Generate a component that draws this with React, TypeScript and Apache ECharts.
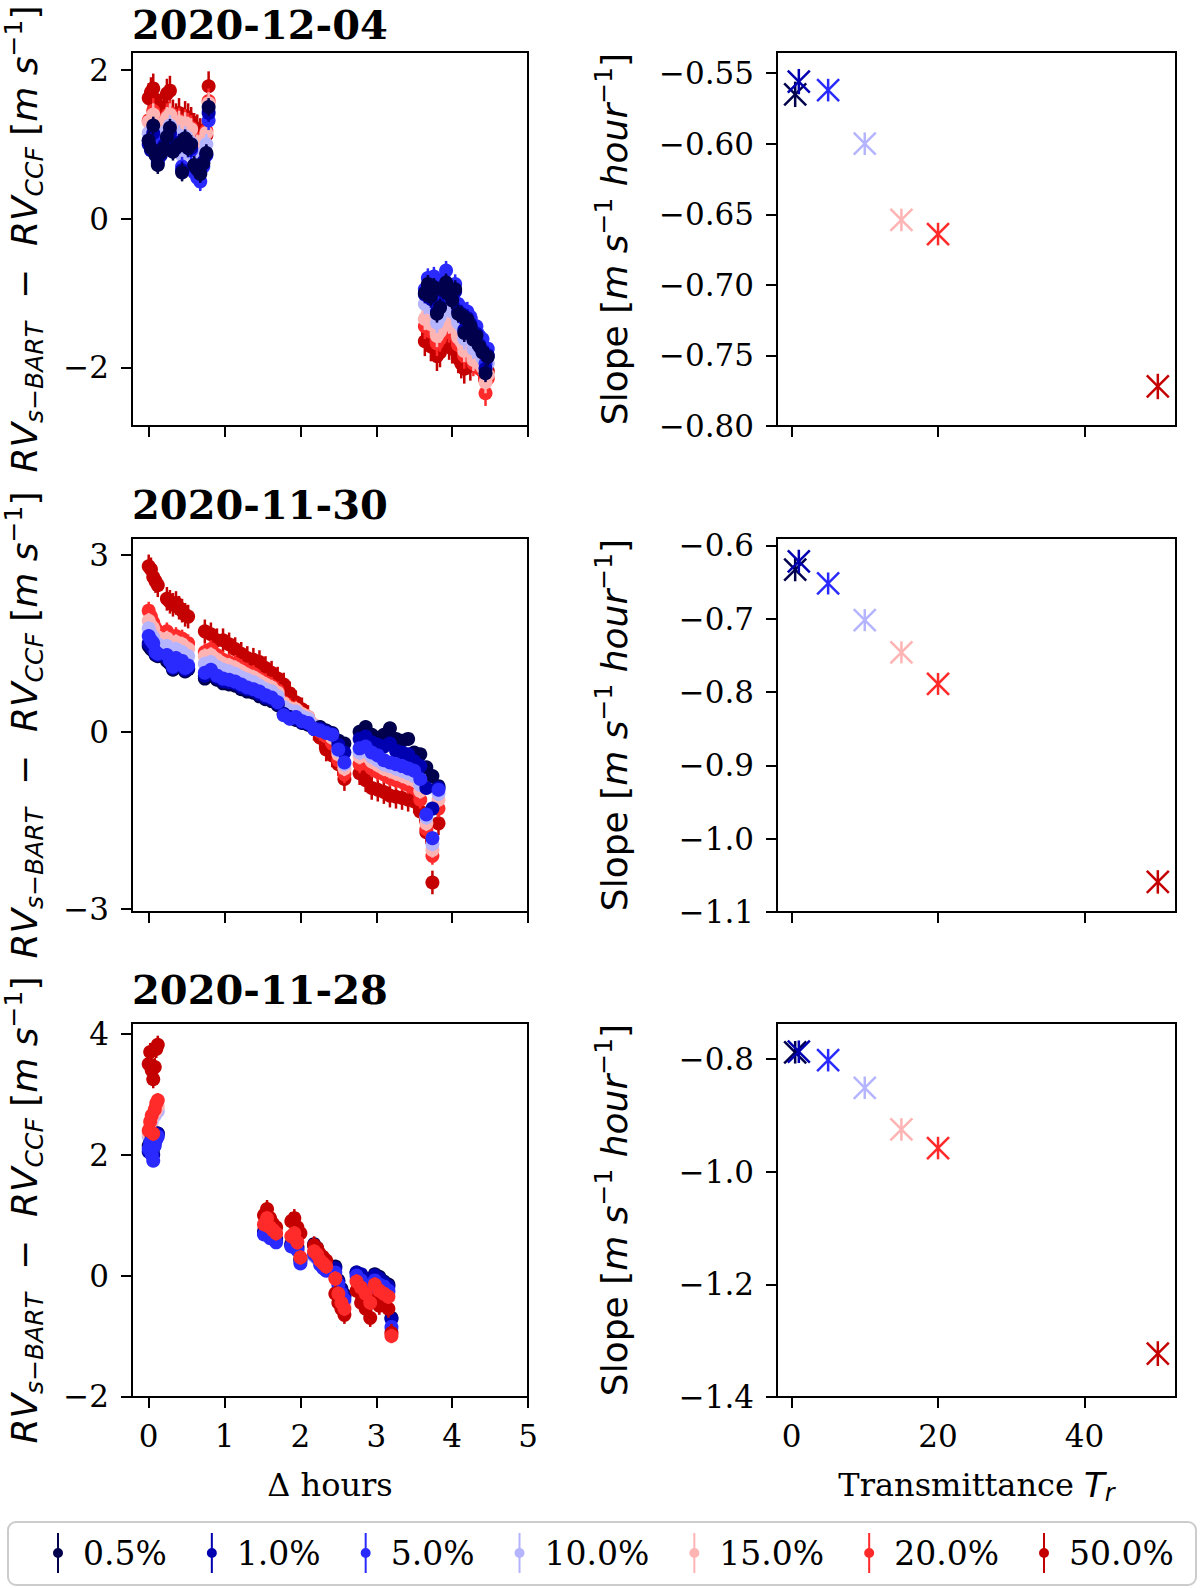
import { useEffect, useRef } from 'react';
import * as echarts from 'echarts';

const SERIF = "'DejaVu Serif', serif";
const SANS = "'DejaVu Sans', sans-serif";

// transmittance levels and their colours (seismic-like)
const LEVELS = ['0.5%', '1.0%', '5.0%', '10.0%', '15.0%', '20.0%', '50.0%'];
const COLORS = ['#00004c', '#0000b0', '#2a2aff', '#b4b4ff', '#ffb4b4', '#ff2a2a', '#c40000'];
const TRANSMITTANCE = [0.5, 1, 5, 10, 15, 20, 50];
const NIGHT_TITLES = ['2020-12-04', '2020-11-30', '2020-11-28'];

// ---- 2020-12-04 ----
const HOURS_DEC04 = [
  0.0, 0.03, 0.06, 0.09, 0.12, 0.16, 0.2, 0.24, 0.28, 0.32, 0.36, 0.4, 0.44, 0.48, 0.52, 0.56, 0.6, 0.64, 0.68, 0.72, 0.76, 0.79,
  3.64, 3.68, 3.72, 3.76, 3.8, 3.84, 3.88, 3.92, 3.96, 4.0, 4.04, 4.08, 4.12, 4.16, 4.2, 4.24, 4.28, 4.32, 4.36, 4.4, 4.44, 4.47,
];
const RV_DEC04 = [
  [1.05, 0.95, 1.25, 0.85, 0.72, 0.88, 0.95, 1.1, 1.22, 0.9, 0.95, 1.0, 0.62, 1.08, 0.95, 1.0, 0.72, 0.66, 0.6, 0.74, 0.88, 1.5,
    -1.0, -0.88, -1.05, -0.92, -1.28, -1.2, -0.96, -0.86, -1.02, -1.1, -0.95, -1.28, -1.3, -1.54, -1.36, -1.45, -1.63, -1.58, -1.72, -1.8, -2.08, -1.86],
  [1.0, 0.92, 1.15, 0.88, 0.75, 0.85, 0.98, 1.05, 1.15, 0.92, 0.98, 1.02, 0.65, 1.02, 0.98, 0.95, 0.7, 0.68, 0.62, 0.76, 0.86, 1.42,
    -1.02, -0.92, -1.08, -0.95, -1.25, -1.18, -0.98, -0.9, -1.0, -1.08, -0.98, -1.25, -1.28, -1.5, -1.34, -1.42, -1.6, -1.55, -1.7, -1.78, -2.02, -1.84],
  [1.05, 0.95, 1.1, 0.9, 0.8, 0.88, 1.0, 1.05, 1.12, 0.95, 0.98, 1.0, 0.7, 1.0, 0.95, 0.92, 0.62, 0.55, 0.5, 0.7, 0.85, 1.32,
    -0.95, -0.8, -1.0, -0.78, -1.1, -1.05, -0.82, -0.7, -0.9, -1.0, -0.88, -1.15, -1.2, -1.35, -1.25, -1.32, -1.5, -1.45, -1.58, -1.62, -1.95, -1.75],
  [1.15, 1.08, 1.22, 1.02, 0.95, 1.0, 1.1, 1.18, 1.25, 1.08, 1.1, 1.12, 0.85, 1.1, 1.05, 1.02, 0.8, 0.78, 0.75, 0.88, 1.0, 1.45,
    -1.15, -1.05, -1.2, -1.1, -1.4, -1.32, -1.12, -1.05, -1.18, -1.25, -1.12, -1.4, -1.45, -1.62, -1.5, -1.58, -1.75, -1.7, -1.8, -1.88, -2.0, -1.95],
  [1.3, 1.25, 1.4, 1.2, 1.12, 1.18, 1.28, 1.35, 1.4, 1.25, 1.28, 1.3, 1.05, 1.28, 1.22, 1.2, 1.0, 0.98, 0.95, 1.05, 1.15, 1.55,
    -1.35, -1.28, -1.42, -1.3, -1.58, -1.52, -1.35, -1.28, -1.4, -1.45, -1.35, -1.6, -1.65, -1.78, -1.68, -1.75, -1.9, -1.85, -1.95, -2.0, -2.2, -2.1],
  [1.32, 1.28, 1.45, 1.22, 1.15, 1.2, 1.3, 1.38, 1.42, 1.28, 1.3, 1.32, 1.08, 1.3, 1.25, 1.22, 1.02, 1.0, 0.98, 1.08, 1.18, 1.58,
    -1.45, -1.4, -1.52, -1.42, -1.68, -1.62, -1.45, -1.4, -1.5, -1.55, -1.45, -1.7, -1.72, -1.85, -1.75, -1.82, -1.95, -1.92, -2.02, -2.05, -2.35, -2.15],
  [1.62, 1.7, 1.75, 1.6, 1.45, 1.42, 1.5, 1.68, 1.72, 1.4, 1.35, 1.42, 1.3, 1.38, 1.35, 1.3, 1.22, 1.2, 1.15, 1.1, 1.12, 1.78,
    -1.65, -1.55, -1.72, -1.6, -1.85, -1.8, -1.62, -1.58, -1.7, -1.75, -1.62, -1.88, -1.95, -2.02, -1.9, -1.98, -1.8, -1.85, -2.0, -1.95, -2.1, -2.05],
];
const ERR_DEC04 = [0.12, 0.12, 0.13, 0.14, 0.15, 0.17, 0.2];
const SLOPE_DEC04 = [-0.565, -0.556, -0.562, -0.6, -0.654, -0.664, -0.772];
const SLOPE_ERR_DEC04 = [0.009, 0.009, 0.008, 0.008, 0.008, 0.008, 0.009];

// ---- 2020-11-30 ----
const HOURS_NOV30 = [
  0.0, 0.03, 0.06, 0.09, 0.12,
  0.24, 0.28, 0.32, 0.36, 0.4, 0.44, 0.48, 0.52,
  0.74, 0.82, 0.9, 0.98, 1.06, 1.14, 1.22, 1.3, 1.38, 1.46, 1.54, 1.62, 1.7, 1.78, 1.86, 1.94, 2.02, 2.1, 2.18, 2.26, 2.34, 2.42, 2.5, 2.58,
  2.78, 2.86, 2.94, 3.02, 3.1, 3.18, 3.26, 3.34, 3.42, 3.5, 3.58, 3.66, 3.74, 3.82,
];
const RV_NOV30 = [
  [1.45, 1.4, 1.38, 1.3, 1.28, 1.2, 1.15, 1.05, 1.18, 1.1, 1.12, 1.02, 1.06,
    0.9, 0.95, 0.88, 0.82, 0.8, 0.78, 0.72, 0.68, 0.66, 0.6, 0.55, 0.52, 0.45, 0.3, 0.25, 0.2, 0.15, 0.12, 0.05, 0.08, 0.02, -0.02, -0.15, -0.2,
    0.0, 0.08, -0.05, -0.1, -0.05, 0.06, -0.12, -0.15, -0.12, -0.35, -0.38, -0.6, -0.75, -0.92],
  [1.5, 1.45, 1.4, 1.32, 1.3, 1.25, 1.18, 1.08, 1.2, 1.12, 1.15, 1.05, 1.08,
    0.95, 1.0, 0.92, 0.86, 0.84, 0.82, 0.76, 0.72, 0.7, 0.64, 0.58, 0.55, 0.48, 0.3, 0.24, 0.22, 0.16, 0.14, 0.05, 0.05, 0.0, -0.04, -0.22, -0.35,
    -0.12, -0.08, -0.18, -0.22, -0.25, -0.2, -0.32, -0.35, -0.38, -0.5, -0.58, -0.95, -1.3, -0.95],
  [1.62, 1.55, 1.5, 1.35, 1.32, 1.3, 1.2, 1.1, 1.25, 1.15, 1.2, 1.08, 1.12,
    1.0, 1.05, 0.95, 0.9, 0.88, 0.85, 0.8, 0.75, 0.72, 0.68, 0.62, 0.58, 0.5, 0.28, 0.22, 0.25, 0.18, 0.15, 0.05, 0.02, -0.02, -0.05, -0.3, -0.52,
    -0.28, -0.25, -0.35, -0.4, -0.48, -0.52, -0.55, -0.58, -0.62, -0.66, -0.8, -1.4, -1.8, -0.98],
  [1.75, 1.65, 1.6, 1.5, 1.48, 1.45, 1.38, 1.28, 1.4, 1.32, 1.35, 1.25, 1.28,
    1.15, 1.18, 1.1, 1.05, 1.02, 0.98, 0.92, 0.88, 0.84, 0.78, 0.72, 0.68, 0.6, 0.42, 0.36, 0.34, 0.26, 0.22, 0.1, 0.06, 0.02, -0.05, -0.32, -0.55,
    -0.35, -0.32, -0.42, -0.48, -0.55, -0.58, -0.62, -0.66, -0.7, -0.75, -0.9, -1.45, -1.9, -1.05],
  [1.88, 1.8, 1.75, 1.62, 1.6, 1.58, 1.5, 1.4, 1.52, 1.45, 1.48, 1.38, 1.4,
    1.28, 1.3, 1.22, 1.15, 1.12, 1.08, 1.02, 0.96, 0.92, 0.86, 0.8, 0.75, 0.66, 0.48, 0.4, 0.38, 0.3, 0.25, 0.12, 0.05, 0.0, -0.1, -0.38, -0.62,
    -0.42, -0.4, -0.5, -0.56, -0.62, -0.66, -0.7, -0.74, -0.78, -0.82, -1.0, -1.55, -2.0, -1.15],
  [2.05, 1.95, 1.85, 1.75, 1.7, 1.7, 1.62, 1.52, 1.62, 1.55, 1.58, 1.48, 1.5,
    1.35, 1.4, 1.3, 1.22, 1.18, 1.15, 1.08, 1.02, 0.98, 0.9, 0.84, 0.78, 0.7, 0.5, 0.42, 0.38, 0.3, 0.22, 0.08, 0.0, -0.08, -0.2, -0.48, -0.72,
    -0.55, -0.52, -0.62, -0.68, -0.72, -0.78, -0.82, -0.85, -0.9, -0.95, -1.15, -1.65, -2.1, -1.3],
  [2.8, 2.75, 2.62, 2.55, 2.48, 2.25, 2.2, 2.15, 2.18, 2.1, 2.05, 1.98, 1.95,
    1.7, 1.65, 1.55, 1.55, 1.48, 1.4, 1.32, 1.25, 1.22, 1.18, 1.08, 1.0, 0.9, 0.8, 0.65, 0.5, 0.38, 0.25, 0.05, -0.1, -0.3, -0.4, -0.55, -0.8,
    -0.7, -0.82, -0.95, -0.98, -1.02, -1.08, -1.1, -1.12, -1.15, -1.18, -1.35, -1.7, -2.55, -1.55],
];
const ERR_NOV30 = [0.1, 0.1, 0.11, 0.12, 0.13, 0.15, 0.2];
const SLOPE_NOV30 = [-0.633, -0.622, -0.652, -0.702, -0.746, -0.789, -1.059];
const SLOPE_ERR_NOV30 = [0.016, 0.016, 0.015, 0.015, 0.015, 0.015, 0.016];

// ---- 2020-11-28 ----
const HOURS_NOV28 = [
  0.0, 0.02, 0.04, 0.06, 0.08, 0.1, 0.12,
  1.52, 1.56, 1.6, 1.64, 1.68,
  1.88, 1.92, 1.96, 2.0,
  2.18, 2.22, 2.26, 2.3, 2.34,
  2.46, 2.5, 2.54, 2.58,
  2.74, 2.8, 2.86, 2.92, 2.98, 3.04, 3.1, 3.16, 3.2,
];
const RV_NOV28 = [
  [2.15, 2.2, 2.3, 2.1, 2.25, 2.32, 2.35, 0.72, 0.78, 0.68, 0.65, 0.6, 0.52, 0.55, 0.48, 0.28,
    0.52, 0.45, 0.3, 0.2, 0.15, 0.15, -0.08, -0.22, -0.32, 0.05, 0.0, -0.05, -0.15, 0.02, -0.02, -0.1, -0.15, -0.7],
  [2.05, 2.15, 2.25, 2.0, 2.2, 2.3, 2.35, 0.7, 0.75, 0.65, 0.62, 0.58, 0.5, 0.52, 0.45, 0.25,
    0.5, 0.42, 0.28, 0.18, 0.12, 0.12, -0.1, -0.25, -0.35, 0.05, 0.02, -0.1, -0.2, 0.0, -0.05, -0.12, -0.18, -0.72],
  [2.1, 2.2, 2.0, 1.9, 2.15, 2.25, 2.3, 0.68, 0.72, 0.62, 0.6, 0.55, 0.48, 0.5, 0.42, 0.2,
    0.35, 0.3, 0.18, 0.12, 0.08, 0.05, -0.15, -0.3, -0.4, 0.0, -0.08, -0.18, -0.25, -0.08, -0.15, -0.18, -0.25, -0.85],
  [2.3, 2.45, 2.55, 2.4, 2.65, 2.7, 2.72, 0.75, 0.82, 0.7, 0.68, 0.62, 0.52, 0.55, 0.42, 0.22,
    0.32, 0.28, 0.2, 0.15, 0.1, 0.0, -0.2, -0.35, -0.45, -0.05, -0.12, -0.22, -0.32, -0.1, -0.18, -0.22, -0.28, -0.9],
  [2.35, 2.5, 2.6, 2.4, 2.7, 2.75, 2.8, 0.8, 0.88, 0.75, 0.7, 0.65, 0.55, 0.6, 0.45, 0.25,
    0.35, 0.3, 0.22, 0.18, 0.12, -0.02, -0.25, -0.4, -0.5, -0.08, -0.15, -0.25, -0.38, -0.12, -0.2, -0.25, -0.3, -0.95],
  [2.4, 2.55, 2.65, 2.35, 2.75, 2.85, 2.9, 0.85, 0.95, 0.8, 0.75, 0.7, 0.65, 0.7, 0.55, 0.3,
    0.4, 0.35, 0.25, 0.2, 0.15, -0.05, -0.3, -0.45, -0.55, -0.1, -0.2, -0.3, -0.45, -0.15, -0.25, -0.3, -0.35, -1.0],
  [3.5, 3.7, 3.4, 3.25, 3.45, 3.75, 3.82, 1.0, 1.1, 0.95, 0.85, 0.8, 0.9, 0.95, 0.8, 0.7,
    0.5, 0.45, 0.35, 0.3, 0.25, -0.3, -0.45, -0.55, -0.65, -0.25, -0.45, -0.55, -0.7, -0.4, -0.5, -0.35, -0.55, -0.95],
];
const ERR_NOV28 = [0.08, 0.08, 0.09, 0.1, 0.11, 0.12, 0.15];
const SLOPE_NOV28 = [-0.788, -0.787, -0.802, -0.851, -0.925, -0.958, -1.323];
const SLOPE_ERR_NOV28 = [0.02, 0.02, 0.02, 0.02, 0.02, 0.02, 0.022];

// tick values
const TICKS_HOURS = [0, 1, 2, 3, 4, 5];
const TICKS_TR = [0, 20, 40];
const TICKS_RV = [[-2, 0, 2], [-3, 0, 3], [-2, 0, 2, 4]];
const TICKS_SLOPE = [
  [-0.8, -0.75, -0.7, -0.65, -0.6, -0.55],
  [-1.1, -1.0, -0.9, -0.8, -0.7, -0.6],
  [-1.4, -1.2, -1.0, -0.8],
];

// layout
const ROW_TOP = [52, 538, 1023];
const ROW_H = 374;
const LEFT_X = 132;
const LEFT_W = 396;
const RIGHT_X = 777;
const RIGHT_W = 399;
const RV_RANGE = [[-2.79, 2.24], [-3.05, 3.28], [-2.01, 4.18]];
const SLOPE_RANGE = [[-0.8, -0.535], [-1.1, -0.59], [-1.4, -0.736]];
const SLOPE_DEC = [2, 1, 1];
const DRAW_ORDER = [
  [6, 5, 4, 3, 2, 1, 0],
  [6, 5, 4, 3, 0, 1, 2],
  [3, 4, 0, 1, 2, 6, 5],
];

const NIGHTS = [
  { hours: HOURS_DEC04, rv: RV_DEC04, err: ERR_DEC04, slope: SLOPE_DEC04, slopeErr: SLOPE_ERR_DEC04 },
  { hours: HOURS_NOV30, rv: RV_NOV30, err: ERR_NOV30, slope: SLOPE_NOV30, slopeErr: SLOPE_ERR_NOV30 },
  { hours: HOURS_NOV28, rv: RV_NOV28, err: ERR_NOV28, slope: SLOPE_NOV28, slopeErr: SLOPE_ERR_NOV28 },
];

const minus = (s: string) => s.replace('-', '\u2212');

const MATH_RICH = {
  i: { fontFamily: SANS, fontStyle: 'italic', fontSize: 36, lineHeight: 46, color: '#000' },
  n: { fontFamily: SANS, fontSize: 36, lineHeight: 46, color: '#000' },
  sub: { fontFamily: SANS, fontStyle: 'italic', fontSize: 25, lineHeight: 25, verticalAlign: 'bottom', color: '#000' },
  sup: { fontFamily: SANS, fontSize: 25, lineHeight: 25, verticalAlign: 'top', color: '#000' },
};

const RV_LABEL =
  '{i|RV}{sub|s\u2212BART}{n|  \u2212  }{i|RV}{sub|CCF}{n| [}{i|m s}{sup|\u22121}{n|]}';
const SLOPE_LABEL = '{n|Slope [}{i|m s}{sup|\u22121}{i| hour}{sup|\u22121}{n|]}';
const TR_LABEL = '{n|Transmittance }{i|T}{sub|r}';

function valueAxis(
  gridIndex: number,
  range: number[],
  ticks: number[],
  decimals: number,
  showLabels: boolean,
  extra: Record<string, unknown> = {},
) {
  return {
    type: 'value',
    gridIndex,
    min: range[0],
    max: range[1],
    axisLine: { show: true, onZero: false, lineStyle: { color: '#000', width: 2 } },
    axisTick: { show: true, length: 11, customValues: ticks, lineStyle: { color: '#000', width: 2 } },
    axisLabel: {
      show: showLabels,
      customValues: ticks,
      margin: 23,
      color: '#000',
      fontFamily: SERIF,
      fontSize: 31,
      formatter: (v: number) => minus(v.toFixed(decimals)),
    },
    splitLine: { show: false },
    ...extra,
  };
}

const renderErrorDot = (_params: any, api: any) => {
  const x = api.value(0);
  const y = api.value(1);
  const e = api.value(2);
  const c = api.coord([x, y]);
  const hi = api.coord([x, y + e]);
  const lo = api.coord([x, y - e]);
  const color = api.visual('color');
  return {
    type: 'group',
    children: [
      { type: 'line', shape: { x1: c[0], y1: hi[1], x2: c[0], y2: lo[1] }, style: { stroke: color, lineWidth: 2.5 } },
      { type: 'circle', shape: { cx: c[0], cy: c[1], r: 7 }, style: { fill: color } },
    ],
  };
};

const renderCross = (_params: any, api: any) => {
  const x = api.value(0);
  const y = api.value(1);
  const e = api.value(2);
  const c = api.coord([x, y]);
  const hi = api.coord([x, y + e]);
  const lo = api.coord([x, y - e]);
  const color = api.visual('color');
  const s = 11;
  const st = { stroke: color, lineWidth: 2.5 };
  return {
    type: 'group',
    children: [
      { type: 'line', shape: { x1: c[0], y1: hi[1], x2: c[0], y2: lo[1] }, style: st },
      { type: 'line', shape: { x1: c[0] - s, y1: c[1] - s, x2: c[0] + s, y2: c[1] + s }, style: st },
      { type: 'line', shape: { x1: c[0] - s, y1: c[1] + s, x2: c[0] + s, y2: c[1] - s }, style: st },
    ],
  };
};

export default function App() {
  const chartRef = useRef<HTMLDivElement>(null);

  useEffect(() => {
    if (!chartRef.current) return;
    document.body.style.margin = '0';
    const chart = echarts.init(chartRef.current, undefined, { renderer: 'svg' });

    const grids: any[] = [];
    const xAxes: any[] = [];
    const yAxes: any[] = [];
    const series: any[] = [];

    NIGHTS.forEach((night, r) => {
      const last = r === NIGHTS.length - 1;
      const gridBase = {
        top: ROW_TOP[r],
        height: ROW_H,
        show: true,
        borderColor: '#000',
        borderWidth: 2,
        backgroundColor: 'transparent',
        containLabel: false,
        outerBoundsMode: 'none',
      };
      grids.push({ ...gridBase, left: LEFT_X, width: LEFT_W });
      grids.push({ ...gridBase, left: RIGHT_X, width: RIGHT_W });

      xAxes.push(
        valueAxis(2 * r, [-0.22, 5], TICKS_HOURS, 0, last, last
          ? { name: '\u0394 hours', nameLocation: 'middle', nameGap: 68,
              nameTextStyle: { fontFamily: SERIF, fontSize: 32, lineHeight: 40, color: '#000' } }
          : {}),
      );
      xAxes.push(
        valueAxis(2 * r + 1, [-1.98, 52.48], TICKS_TR, 0, last, last
          ? { name: TR_LABEL, nameLocation: 'middle', nameGap: 68,
              nameTextStyle: {
                rich: {
                  n: { fontFamily: SERIF, fontSize: 32, lineHeight: 40, color: '#000' },
                  i: { fontFamily: SANS, fontStyle: 'italic', fontSize: 34, lineHeight: 40, color: '#000' },
                  sub: { fontFamily: SANS, fontStyle: 'italic', fontSize: 24, lineHeight: 24, verticalAlign: 'bottom', color: '#000' },
                },
              } }
          : {}),
      );
      yAxes.push(
        valueAxis(2 * r, RV_RANGE[r], TICKS_RV[r], 0, true, {
          name: RV_LABEL, nameLocation: 'middle', nameRotate: 90, nameGap: 85,
          nameTextStyle: { rich: MATH_RICH },
        }),
      );
      yAxes.push(
        valueAxis(2 * r + 1, SLOPE_RANGE[r], TICKS_SLOPE[r], SLOPE_DEC[r], true, {
          name: SLOPE_LABEL, nameLocation: 'middle', nameRotate: 90, nameGap: 140,
          nameTextStyle: { rich: MATH_RICH },
        }),
      );

      DRAW_ORDER[r].forEach((k) => {
        series.push({
          type: 'custom',
          name: LEVELS[k],
          xAxisIndex: 2 * r,
          yAxisIndex: 2 * r,
          itemStyle: { color: COLORS[k] },
          encode: { x: 0, y: 1 },
          renderItem: renderErrorDot,
          data: night.hours.map((h, i) => [h, night.rv[k][i], night.err[k]]),
        });
      });
      LEVELS.forEach((name, k) => {
        series.push({
          type: 'custom',
          name,
          xAxisIndex: 2 * r + 1,
          yAxisIndex: 2 * r + 1,
          itemStyle: { color: COLORS[k] },
          encode: { x: 0, y: 1 },
          renderItem: renderCross,
          data: [[TRANSMITTANCE[k], night.slope[k], night.slopeErr[k]]],
        });
      });
    });

    const option: any = {
      animation: false,
      backgroundColor: '#fff',
      title: NIGHT_TITLES.map((text, r) => ({
        text,
        left: LEFT_X,
        top: Math.max(4, ROW_TOP[r] - 54),
        padding: 0,
        textStyle: { fontFamily: SERIF, fontWeight: 'bold', fontSize: 40, lineHeight: 40, color: '#000' },
      })),
      legend: {
        data: LEVELS,
        orient: 'horizontal',
        left: 53,
        top: 1533,
        padding: 0,
        itemGap: 40,
        itemWidth: 40,
        itemHeight: 40,
        icon: 'path://M4,0H6V40H4Z M0,20A5,5,0,1,1,10,20A5,5,0,1,1,0,20Z',
        textStyle: { fontFamily: SERIF, fontSize: 33, color: '#000' },
      },
      graphic: [
        {
          type: 'rect',
          shape: { x: 8, y: 1522, width: 1188, height: 63, r: 8 },
          style: { fill: 'transparent', stroke: '#cccccc', lineWidth: 2 },
          z: -1,
        },
      ],
      grid: grids,
      xAxis: xAxes,
      yAxis: yAxes,
      series,
    };

    chart.setOption(option);

    return () => {
      chart.dispose();
    };
  }, []);

  return <div ref={chartRef} style={{ width: '1200px', height: '1588px' }} />;
}
